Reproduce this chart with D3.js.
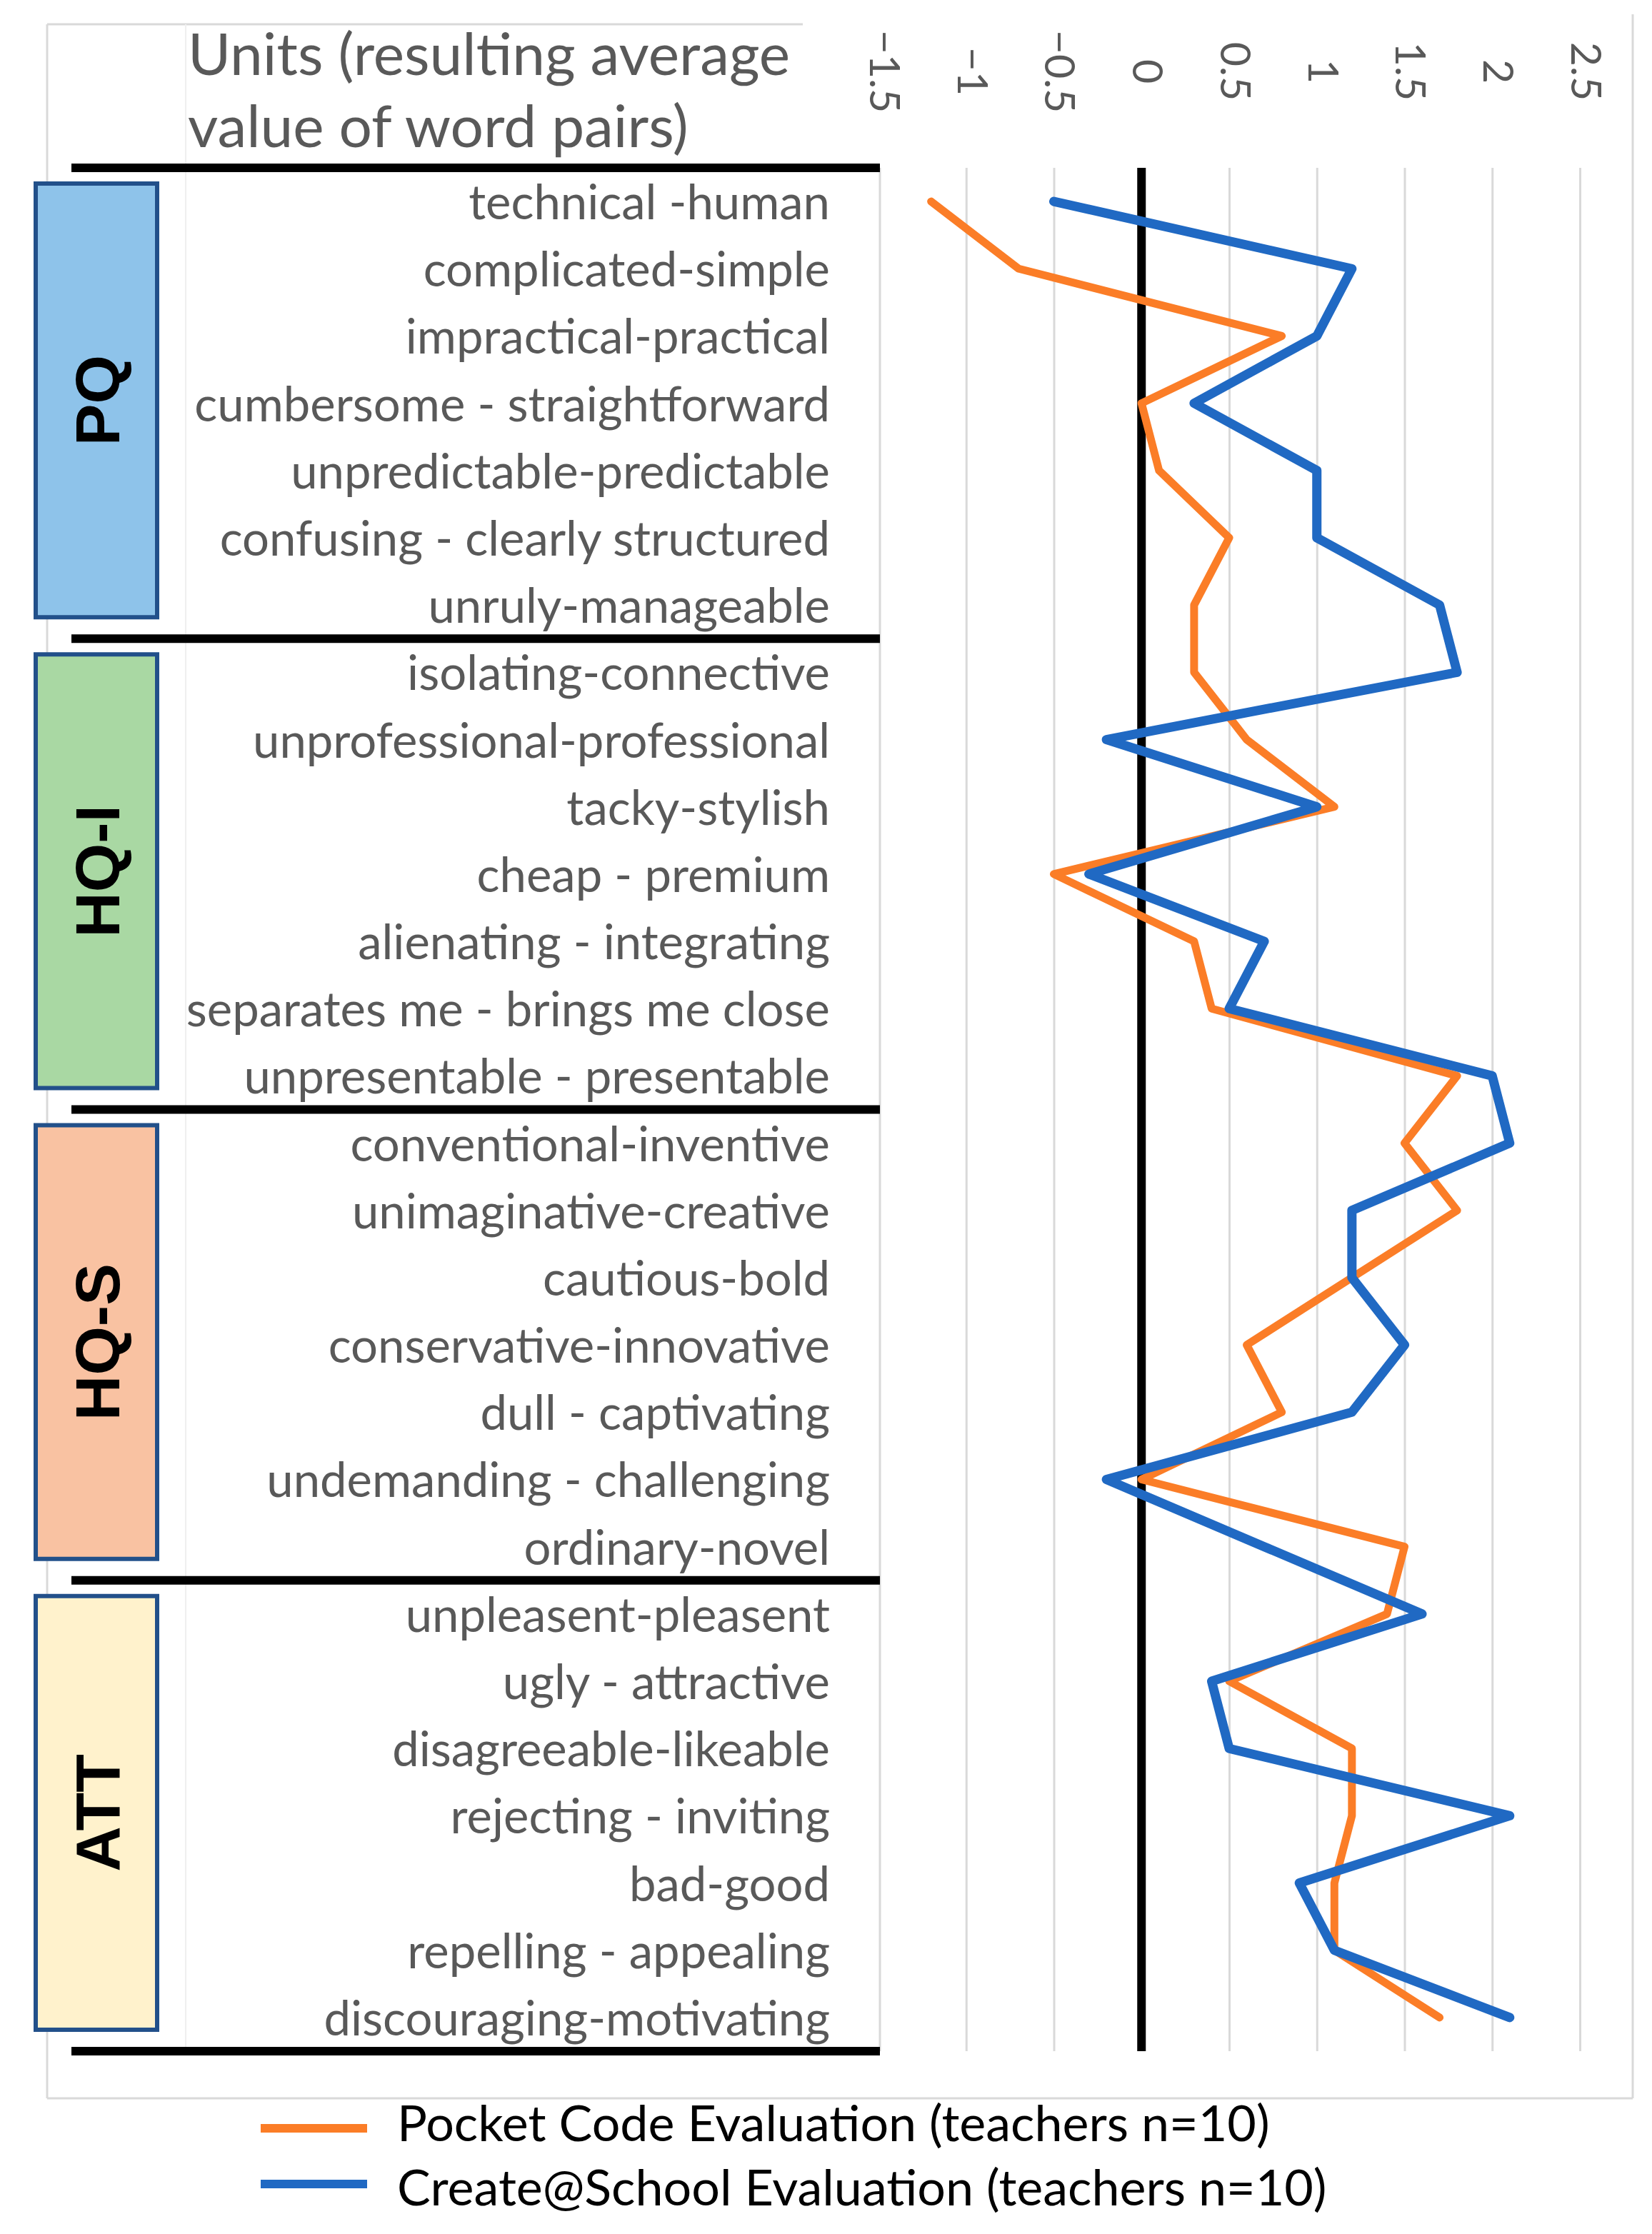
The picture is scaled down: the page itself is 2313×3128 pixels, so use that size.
<!DOCTYPE html>
<html>
<head>
<meta charset="utf-8">
<script src="https://cdn.jsdelivr.net/npm/d3@7"></script>
<style>
  body { margin: 0; background: #fff; }
  svg { display: block; font-family: Lato, "Open Sans", sans-serif; }
</style>
</head>
<body>
<div id="chart"></div>
<script>
// Data
const wordPairs = [
  "technical -human", "complicated-simple", "impractical-practical",
  "cumbersome - straightforward", "unpredictable-predictable",
  "confusing - clearly structured", "unruly-manageable",
  "isolating-connective", "unprofessional-professional", "tacky-stylish",
  "cheap - premium", "alienating - integrating", "separates me - brings me close",
  "unpresentable - presentable",
  "conventional-inventive", "unimaginative-creative", "cautious-bold",
  "conservative-innovative", "dull - captivating", "undemanding - challenging",
  "ordinary-novel",
  "unpleasent-pleasent", "ugly - attractive", "disagreeable-likeable",
  "rejecting - inviting", "bad-good", "repelling - appealing", "discouraging-motivating"
];
const groups = ["PQ", "HQ-I", "HQ-S", "ATT"];
const pocketCode = [
  -1.2, -0.7, 0.8, 0.0, 0.1, 0.5, 0.3,
  0.3, 0.6, 1.1, -0.5, 0.3, 0.4, 1.8,
  1.5, 1.8, 1.2, 0.6, 0.8, 0.0, 1.5,
  1.4, 0.5, 1.2, 1.2, 1.1, 1.1, 1.7
];
const createSchool = [
  -0.5, 1.2, 1.0, 0.3, 1.0, 1.0, 1.7,
  1.8, -0.2, 1.0, -0.3, 0.7, 0.5, 2.0,
  2.1, 1.2, 1.2, 1.5, 1.2, -0.2, 0.7,
  1.6, 0.4, 0.5, 2.1, 0.9, 1.1, 2.1
];
const xTicks = [-1.5, -1, -0.5, 0, 0.5, 1, 1.5, 2, 2.5];
const seriesNames = [
  "Pocket Code Evaluation (teachers n=10)",
  "Create@School Evaluation (teachers n=10)"
];
const titleLines = ["Units (resulting average", "value of word pairs)"];

// Styles
const groupFill = ["#8EC3EA", "#A9D8A3", "#F9C2A2", "#FFF2CC"];
const seriesColor = ["#FB7D27", "#2069C3"];
const labelGray = "#595959";

const W = 2313, H = 3128;
const plotTop = 235, plotBottom = 2872, plotLeft = 1230, plotRight = 2212;
const perGroup = 7;

const svg = d3.select("#chart").append("svg")
  .attr("width", W).attr("height", H);

svg.append("rect").attr("width", W).attr("height", H).attr("fill", "#fff");

const x = d3.scaleLinear().domain([-1.5, 2.5]).range([plotLeft, plotRight]);
const y = d3.scaleBand().domain(wordPairs).range([plotTop, plotBottom]);
const bw = y.bandwidth();
const cy = d => y(d) + bw / 2;

// Outer frame (light gray)
const frame = svg.append("g").attr("stroke", "#D9D9D9").attr("stroke-width", 3).attr("fill", "none");
frame.append("line").attr("x1", 66).attr("x2", 1124).attr("y1", 34).attr("y2", 34);
frame.append("line").attr("x1", 66).attr("x2", 66).attr("y1", 34).attr("y2", 2938);
frame.append("line").attr("x1", 66).attr("x2", 2286).attr("y1", 2938).attr("y2", 2938);
frame.append("line").attr("x1", 2286).attr("x2", 2286).attr("y1", 20).attr("y2", 2938);
frame.append("line").attr("x1", 1232).attr("x2", 1232).attr("y1", plotTop).attr("y2", plotBottom);
svg.append("line").attr("x1", 260).attr("x2", 260).attr("y1", 34).attr("y2", plotBottom)
  .attr("stroke", "#EFEFEF").attr("stroke-width", 2);

// Gridlines
const grid = svg.append("g")
  .attr("transform", `translate(0,${plotBottom})`)
  .call(d3.axisBottom(x).tickValues(xTicks.filter(v => v !== 0 && v !== -1.5))
    .tickSize(-(plotBottom - plotTop)).tickFormat(""));
grid.select(".domain").remove();
grid.selectAll(".tick line").attr("stroke", "#D9D9D9").attr("stroke-width", 3);

// Tick labels (rotated)
const axisTop = svg.append("g")
  .call(d3.axisTop(x).tickValues(xTicks).tickSize(0).tickFormat(d3.format("")));
axisTop.select(".domain").remove();
axisTop.selectAll(".tick text")
  .attr("font-family", "Lato, sans-serif")
  .attr("font-size", 59)
  .attr("fill", labelGray)
  .attr("text-anchor", "middle")
  .attr("x", 0).attr("y", 0).attr("dy", "0.35em")
  .attr("transform", "translate(8,100) rotate(90)");

// Zero line
svg.append("line")
  .attr("x1", x(0)).attr("x2", x(0)).attr("y1", plotTop).attr("y2", plotBottom)
  .attr("stroke", "#000").attr("stroke-width", 12);

// Title
svg.append("g").selectAll("text").data(titleLines).join("text")
  .attr("x", 263).attr("y", (d, i) => 105 + i * 101)
  .attr("font-size", 82).attr("fill", labelGray)
  .text(d => d);

// Group boxes
const boxTop = i => y(wordPairs[i * perGroup]) + 22;
const boxBottom = i => y(wordPairs[i * perGroup + perGroup - 1]) + bw - 30;
const gb = svg.append("g").selectAll("g").data(groups).join("g");
gb.append("rect")
  .attr("x", 50).attr("width", 170)
  .attr("y", (d, i) => boxTop(i))
  .attr("height", (d, i) => boxBottom(i) - boxTop(i))
  .attr("fill", (d, i) => groupFill[i])
  .attr("stroke", "#22508A").attr("stroke-width", 6);
gb.append("text")
  .attr("transform", (d, i) => `translate(135,${(boxTop(i) + boxBottom(i)) / 2}) rotate(-90)`)
  .attr("text-anchor", "middle").attr("dy", "0.36em")
  .attr("font-family", "'Liberation Sans', Arial, sans-serif")
  .attr("font-weight", "bold").attr("font-size", 88).attr("fill", "#000")
  .text(d => d);

// Separators
svg.append("g").selectAll("line").data(d3.range(groups.length + 1)).join("line")
  .attr("x1", 100).attr("x2", 1232)
  .attr("y1", k => plotTop + k * perGroup * bw).attr("y2", k => plotTop + k * perGroup * bw)
  .attr("stroke", "#000").attr("stroke-width", 12);

// Category labels
svg.append("g").selectAll("text").data(wordPairs).join("text")
  .attr("x", 1162).attr("y", d => cy(d) + 25)
  .attr("text-anchor", "end")
  .attr("font-size", 67).attr("fill", labelGray)
  .text(d => d);

// Lines
const line = d3.line()
  .x(d => x(d))
  .y((d, i) => cy(wordPairs[i]));

svg.append("g").selectAll("path").data([pocketCode, createSchool]).join("path")
  .attr("d", d => line(d))
  .attr("fill", "none")
  .attr("stroke", (d, i) => seriesColor[i])
  .attr("stroke-width", (d, i) => i ? 13 : 11)
  .attr("stroke-linejoin", "round")
  .attr("stroke-linecap", "round");

// Legend
const legSwatchY = [2980, 3058];
const legTextY = [2998, 3088];
const leg = svg.append("g").selectAll("g").data(seriesNames).join("g");
leg.append("line")
  .attr("x1", 365).attr("x2", 514)
  .attr("y1", (d, i) => legSwatchY[i]).attr("y2", (d, i) => legSwatchY[i])
  .attr("stroke", (d, i) => seriesColor[i]).attr("stroke-width", 12);
leg.append("text")
  .attr("x", 556).attr("y", (d, i) => legTextY[i])
  .attr("font-size", 70).attr("fill", "#000")
  .text(d => d);
</script>
</body>
</html>
